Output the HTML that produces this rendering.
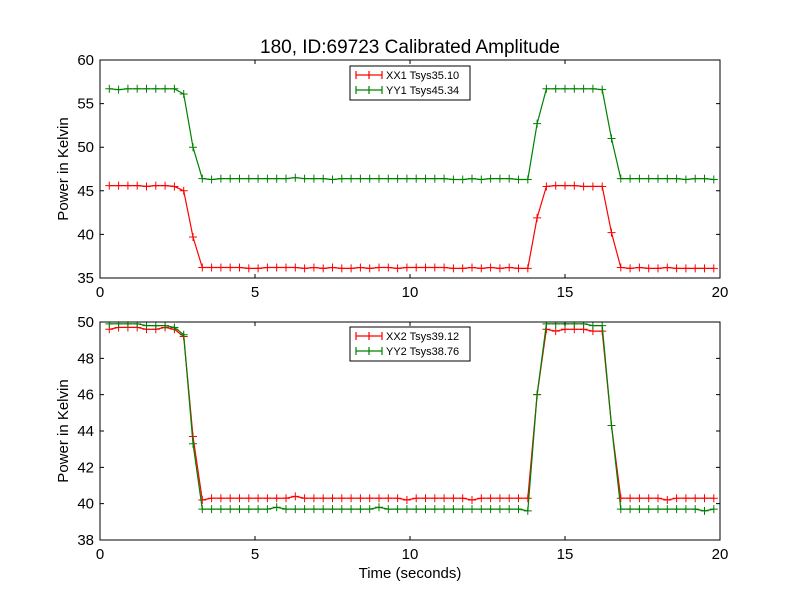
<!DOCTYPE html>
<html><head><meta charset="utf-8"><style>
body{margin:0;background:#fff;}
svg{font-family:"Liberation Sans","DejaVu Sans",sans-serif;}
</style></head><body>
<svg id="chart" width="800" height="600" xmlns="http://www.w3.org/2000/svg">
<rect width="800" height="600" fill="#fff"/>
<text x="410" y="53" font-size="19" text-anchor="middle">180, ID:69723 Calibrated Amplitude</text>
<text x="410" y="578" font-size="15" text-anchor="middle">Time (seconds)</text>
</svg>
<script>
const low1x = [36.2,36.2,36.2,36.2,36.2,36.1,36.1,36.2,36.2,36.2,36.2,36.1,36.2,36.1,36.2,36.1,36.1,36.2,36.1,36.2,36.2,36.1,36.2,36.2,36.2,36.2,36.2,36.1,36.1,36.2,36.1,36.2,36.1,36.2,36.1,36.1];
const XX1 = [45.6,45.6,45.6,45.6,45.5,45.6,45.6,45.5,45.0,39.7].concat(low1x,[41.9,45.5,45.6,45.6,45.6,45.5,45.5,45.5,40.2,36.2,36.1,36.2,36.1,36.1,36.2,36.1,36.1,36.1,36.1,36.1]);
const low1y = [46.4,46.3,46.4,46.4,46.4,46.4,46.4,46.4,46.4,46.4,46.5,46.4,46.4,46.4,46.3,46.4,46.4,46.4,46.4,46.4,46.4,46.4,46.4,46.4,46.4,46.4,46.4,46.3,46.3,46.4,46.3,46.4,46.4,46.4,46.3,46.3];
const YY1 = [56.7,56.6,56.7,56.7,56.7,56.7,56.7,56.7,56.1,50.0].concat(low1y,[52.7,56.7,56.7,56.7,56.7,56.7,56.7,56.6,51.0,46.4,46.4,46.4,46.4,46.4,46.4,46.4,46.3,46.4,46.4,46.3]);
const low2x = [40.2,40.3,40.3,40.3,40.3,40.3,40.3,40.3,40.3,40.3,40.4,40.3,40.3,40.3,40.3,40.3,40.3,40.3,40.3,40.3,40.3,40.3,40.2,40.3,40.3,40.3,40.3,40.3,40.3,40.2,40.3,40.3,40.3,40.3,40.3,40.3];
const XX2 = [49.6,49.7,49.7,49.7,49.6,49.6,49.7,49.6,49.2,43.7].concat(low2x,[46.0,49.6,49.5,49.6,49.6,49.6,49.5,49.5,44.3,40.3,40.3,40.3,40.3,40.3,40.2,40.3,40.3,40.3,40.3,40.3]);
const low2y = [39.7,39.7,39.7,39.7,39.7,39.7,39.7,39.7,39.8,39.7,39.7,39.7,39.7,39.7,39.7,39.7,39.7,39.7,39.7,39.8,39.7,39.7,39.7,39.7,39.7,39.7,39.7,39.7,39.7,39.7,39.7,39.7,39.7,39.7,39.7,39.6];
const YY2 = [49.9,49.9,49.9,49.9,49.8,49.8,49.8,49.7,49.3,43.3].concat(low2y,[46.0,49.9,49.9,49.9,49.9,49.9,49.8,49.8,44.3,39.7,39.7,39.7,39.7,39.7,39.7,39.7,39.7,39.7,39.6,39.7]);
const times = XX1.map((_, i) => +(0.3 + 0.3 * i).toFixed(2));
const xTicks = [0, 5, 10, 15, 20];
const yTicks1 = [35, 40, 45, 50, 55, 60];
const yTicks2 = [38, 40, 42, 44, 46, 48, 50];
const legend1 = ["XX1 Tsys35.10", "YY1 Tsys45.34"];
const legend2 = ["XX2 Tsys39.12", "YY2 Tsys38.76"];

const NS = "http://www.w3.org/2000/svg";
const svg = document.getElementById("chart");
function mk(tag, attrs, parent) {
  const e = document.createElementNS(NS, tag);
  for (const k in attrs) e.setAttribute(k, attrs[k]);
  (parent || svg).appendChild(e);
  return e;
}
function panel(id, top, bottom, ymin, ymax, yTicks, series, names, legendY) {
  const L = 100, R = 720;
  const xs = t => L + (t - 0) / 20 * (R - L);
  const ys = v => bottom - (v - ymin) / (ymax - ymin) * (bottom - top);
  const g = mk("g", {});
  
  
  const clip = mk("clipPath", { id: id + "-clip" }, g);
  mk("rect", { x: L, y: top, width: R - L, height: bottom - top }, clip);
  const colors = ["#ff0000", "#008000"];
  series.forEach((s, si) => {
    const sg = mk("g", { "clip-path": "url(#" + id + "-clip)" }, g);
    
    
    const pts = s.map((v, i) => xs(times[i]).toFixed(1) + "," + ys(v).toFixed(1)).join(" ");
    mk("polyline", { points: pts, fill: "none", stroke: colors[si], "stroke-width": 1.2 }, sg);
    let d = "";
    s.forEach((v, i) => {
      const x = xs(times[i]), y = ys(v);
      d += `M${x - 4},${y}h8M${x},${y - 4}v8`;
    });
    mk("path", { d: d, stroke: colors[si], "stroke-width": 1 }, sg);
  });
  mk("rect", { x: L, y: top, width: R - L, height: bottom - top, fill: "none", stroke: "#000", "stroke-width": 1 }, g);
  xTicks.forEach(t => {
    const x = xs(t);
    mk("path", { d: `M${x},${bottom}v-4M${x},${top}v4`, stroke: "#000" }, g);
    const tx = mk("text", { x: x, y: bottom + 19, "font-size": 15, "text-anchor": "middle" }, g);
    
    
    tx.textContent = t;
  });
  yTicks.forEach(v => {
    const y = ys(v);
    mk("path", { d: `M${L},${y}h4M${R},${y}h-4`, stroke: "#000" }, g);
    const ty = mk("text", { x: L - 6, y: y + 5, "font-size": 15, "text-anchor": "end" }, g);
    
    
    ty.textContent = v;
  });
  const yt = mk("text", { x: 0, y: 0, "font-size": 15, "text-anchor": "middle", transform: `translate(68,${(top + bottom) / 2}) rotate(-90)` }, g);
  
  
  yt.textContent = "Power in Kelvin";
  const lg = mk("g", {}, g);
  
  
  mk("rect", { x: 350, y: legendY, width: 120, height: 34, fill: "#fff", stroke: "#000", "stroke-width": 1 }, lg);
  names.forEach((n, i) => {
    const y = legendY + 9 + i * 15;
    mk("path", { d: `M356,${y}h26M369,${y - 4}v8M356,${y - 4}v8M382,${y - 4}v8`, stroke: colors[i], "stroke-width": 1.2 }, lg);
    const lt = mk("text", { x: 386, y: y + 4, "font-size": 11 }, lg);
    
    
    lt.textContent = n;
  });
}
panel("top", 60, 278, 35, 60, yTicks1, [XX1, YY1], legend1, 66);
panel("bottom", 322, 540, 38, 50, yTicks2, [XX2, YY2], legend2, 327);
</script>
</body></html>
